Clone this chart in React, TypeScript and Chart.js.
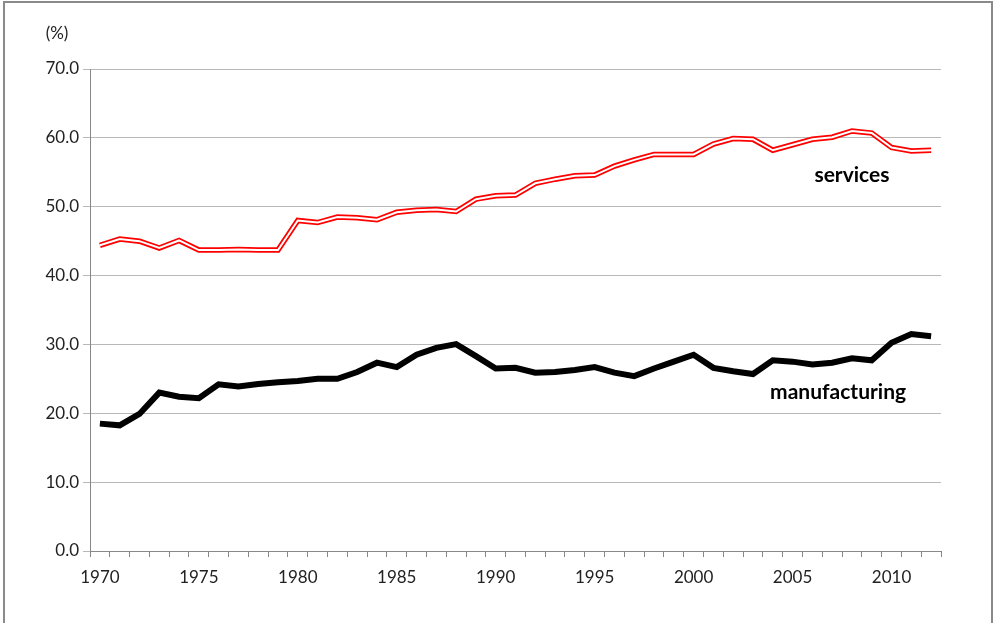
import React, { useEffect, useRef } from "react";
import { Chart, registerables } from "chart.js";

Chart.register(...registerables);

const years: string[] = [];
for (let y = 1970; y <= 2012; y++) years.push(String(y));

const services = [
  44.4, 45.3, 45.0, 44.0, 45.1, 43.7, 43.7, 43.8, 43.7, 43.7,
  48.0, 47.7, 48.5, 48.4, 48.1, 49.2, 49.5, 49.6, 49.3, 51.1,
  51.6, 51.7, 53.4, 54.0, 54.5, 54.6, 55.9, 56.8, 57.6, 57.6,
  57.6, 59.1, 59.9, 59.8, 58.2, 59.0, 59.8, 60.1, 61.0, 60.7,
  58.6, 58.1, 58.2,
];

const manufacturing = [
  18.5, 18.25, 19.9, 23.0, 22.4, 22.2, 24.2, 23.9, 24.25, 24.5,
  24.7, 25.0, 25.0, 26.0, 27.35, 26.7, 28.5, 29.5, 30.05, 28.3,
  26.5, 26.6, 25.9, 26.0, 26.3, 26.7, 25.9, 25.4, 26.5, 27.5,
  28.5, 26.6, 26.1, 25.7, 27.7, 27.5, 27.1, 27.35, 28.0, 27.7,
  30.25, 31.5, 31.2,
];

const seriesLabels = [
  { text: "services", year: "2008", value: 54.5, shift: 0 },
  { text: "manufacturing", year: "2007", value: 23.1, shift: 0.3 },
];

const FONT = "Lato, 'Open Sans', sans-serif";

const labelPlugin = {
  id: "seriesLabels",
  afterDatasetsDraw(chart: any) {
    const { ctx, scales, chartArea } = chart;
    const xs = scales.x;
    const ys = scales.y;
    ctx.save();
    ctx.fillStyle = "#000";
    ctx.font = `bold 21px ${FONT}`;
    ctx.textAlign = "center";
    ctx.textBaseline = "middle";
    for (const l of seriesLabels) {
      const idx = years.indexOf(l.year) + l.shift;
      const x = xs.getPixelForValue(idx);
      const y = ys.getPixelForValue(l.value);
      ctx.fillText(l.text, x, y);
    }
    ctx.font = `17px ${FONT}`;
    ctx.fillStyle = "#222";
    ctx.fillText("(%)", chartArea.left - 33, chartArea.top - 35);
    ctx.restore();
  },
};

export default function App() {
  const ref = useRef<HTMLCanvasElement | null>(null);
  useEffect(() => {
    if (!ref.current) return;
    const chart = new Chart(ref.current, {
      type: "line",
      data: {
        labels: years,
        datasets: [
          {
            label: "services-inner",
            data: services,
            borderColor: "#ffffff",
            borderWidth: 2,
            pointRadius: 0,
            tension: 0,
            order: 0,
          },
          {
            label: "services",
            data: services,
            borderColor: "#ff0000",
            borderWidth: 5.5,
            pointRadius: 0,
            tension: 0,
            order: 1,
          },
          {
            label: "manufacturing",
            data: manufacturing,
            borderColor: "#000000",
            borderWidth: 6,
            pointRadius: 0,
            tension: 0,
            order: 2,
          },
        ],
      },
      options: {
        animation: false,
        responsive: false,
        maintainAspectRatio: false,
        layout: { padding: { top: 69, right: 52, left: 0, bottom: 0 } },
        plugins: { legend: { display: false }, tooltip: { enabled: false } },
        scales: {
          x: {
            type: "category",
            offset: true,
            afterFit: (s: any) => {
              s.height = 72;
            },
            grid: {
              offset: true,
              drawOnChartArea: false,
              drawTicks: true,
              tickLength: 6,
              color: "#888",
            },
            border: { color: "#888", width: 1 },
            ticks: {
              autoSkip: false,
              maxRotation: 0,
              padding: 10,
              color: "#222",
              font: { family: FONT, size: 17 },
              callback: (_v: any, i: number) =>
                Number(years[i]) % 5 === 0 ? years[i] : "",
            },
          },
          y: {
            min: 0,
            max: 70,
            afterFit: (s: any) => {
              s.width = 90;
            },
            grid: {
              color: "#b8b8b8",
              drawTicks: true,
              tickLength: 7,
            },
            border: { color: "#888", width: 1 },
            ticks: {
              stepSize: 10,
              padding: 4,
              color: "#222",
              font: { family: FONT, size: 17 },
              callback: (v: any) => Number(v).toFixed(1),
            },
          },
        },
      },
      plugins: [labelPlugin],
    } as any);
    return () => chart.destroy();
  }, []);

  return (
    <div
      style={{
        position: "absolute",
        left: 0,
        top: 0,
        width: 993,
        height: 623,
        background: "#fff",
        overflow: "hidden",
      }}
    >
      <div
        style={{
          position: "absolute",
          left: 3,
          top: 1,
          width: 986,
          height: 640,
          border: "2px solid #8a8a8a",
        }}
      />
      <canvas
        ref={ref}
        width={993}
        height={623}
        style={{ position: "absolute", left: 0, top: 0 }}
      />
    </div>
  );
}
